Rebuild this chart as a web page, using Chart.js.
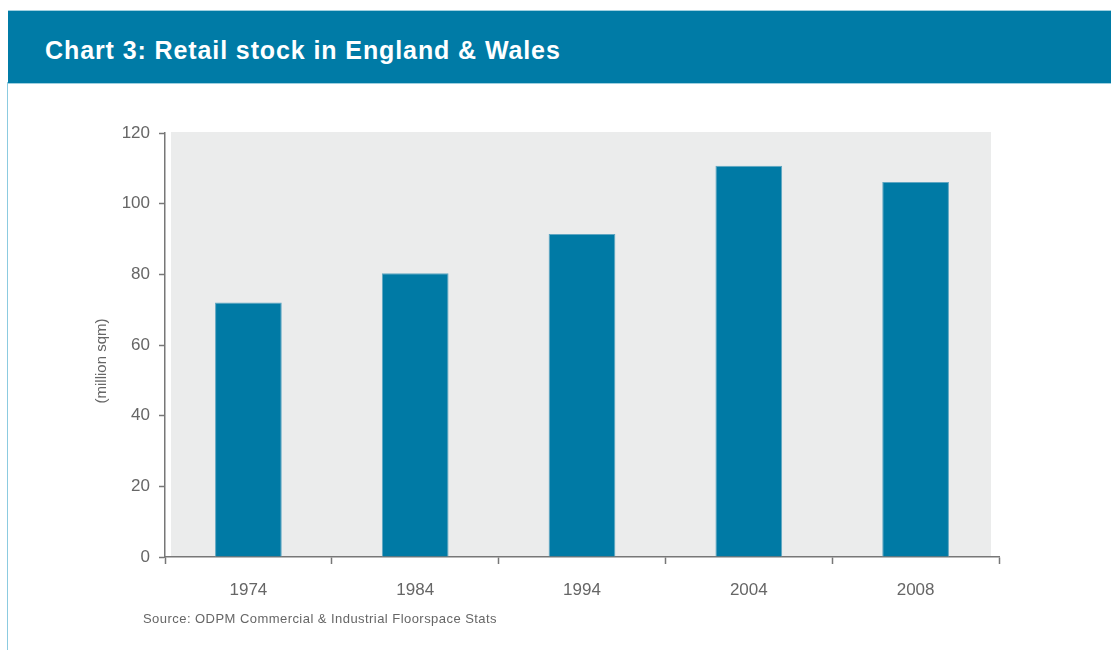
<!DOCTYPE html>
<html>
<head>
<meta charset="utf-8">
<script src="https://cdn.jsdelivr.net/npm/chart.js@4"></script>
<style>
  body { margin: 0; background: #fff; width: 1111px; height: 650px; overflow: hidden; position: relative; font-family: "Liberation Sans", Arial, sans-serif; }
  #band { position: absolute; left: 8px; top: 10px; width: 1103px; height: 72px; background: #007ba6; border-top: 1px solid #9fd0e0; border-bottom: 1px solid #9fd0e0; }
  #band h1 { margin: 0; position: absolute; left: 37px; top: 25px; color: #fff; font-size: 25px; font-weight: bold; letter-spacing: 0.9px; }
  #edge { position: absolute; left: 7px; top: 82px; width: 1px; height: 568px; background: #8ccbe0; }
  #wrap { position: absolute; left: 0; top: 0; width: 1111px; height: 650px; }
  #src { position: absolute; left: 143px; top: 611px; font-size: 13px; color: #666; letter-spacing: 0.45px; }
</style>
</head>
<body>
<div id="band"><h1>Chart 3: Retail stock in England &amp; Wales</h1></div>
<div id="edge"></div>
<div id="wrap"><canvas id="retailChart"></canvas></div>
<div id="src">Source: ODPM Commercial &amp; Industrial Floorspace Stats</div>
<script>
// donnees
const years = ['1974', '1984', '1994', '2004', '2008'];
const stock = [72, 80.3, 91.4, 110.7, 106.1];
const yTicks = [0, 20, 40, 60, 80, 100, 120];
const yTitle = '(million sqm)';

// fond gris de la zone de trace + titre de l'axe Y
const plotBg = {
    id: 'plotBg',
    beforeDraw(chart) {
        const { ctx, chartArea: a } = chart;
        ctx.save();
        ctx.fillStyle = '#ebecec';
        ctx.fillRect(a.left + 6, a.top - 1, a.right - a.left - 14, a.bottom - a.top + 1);
        ctx.restore();
    },
    afterDraw(chart) {
        const { ctx, chartArea: a } = chart;
        ctx.save();
        ctx.translate(a.left - 63, a.top + 228);
        ctx.rotate(-Math.PI / 2);
        ctx.fillStyle = '#666';
        ctx.font = '15px "Liberation Sans"';
        ctx.textAlign = 'center';
        ctx.textBaseline = 'middle';
        ctx.fillText(yTitle, 0, 0);
        ctx.restore();
    }
};

new Chart(document.querySelector('#retailChart'), {
    type: 'bar',
    data: {
        labels: years,
        datasets: [{
            label: 'Retail stock',
            data: stock,
            backgroundColor: '#007aa5',
            borderColor: '#5fa6c2',
            borderWidth: 1,
            barPercentage: 0.4,
            categoryPercentage: 1,
        }],
    },
    options: {
        responsive: true,
        maintainAspectRatio: false,
        animation: false,
        layout: { padding: { left: 95, top: 133, right: 112, bottom: 43 } },
        plugins: {
            legend: { display: false },
            tooltip: { enabled: false },
        },
        scales: {
            x: {
                grid: { offset: true, drawOnChartArea: false, drawTicks: true, tickLength: 7, tickColor: '#777', tickWidth: 1.5 },
                border: { display: true, color: '#777', width: 1.5 },
                ticks: { color: '#666', padding: 16, font: { family: 'Liberation Sans', size: 17 } },
                afterFit: s => { s.height = 50; },
            },
            y: {
                min: 0,
                max: 120,
                afterBuildTicks: s => { s.ticks = yTicks.map(v => ({ value: v })); },
                grid: { drawOnChartArea: false, drawTicks: true, tickLength: 6, tickColor: '#777', tickWidth: 1.5 },
                border: { display: true, color: '#777', width: 1.5 },
                ticks: { color: '#666', padding: 9, font: { family: 'Liberation Sans', size: 17 } },
                afterFit: s => { s.width = 70; },
            },
        },
    },
    plugins: [plotBg],
});
</script>
</body>
</html>
